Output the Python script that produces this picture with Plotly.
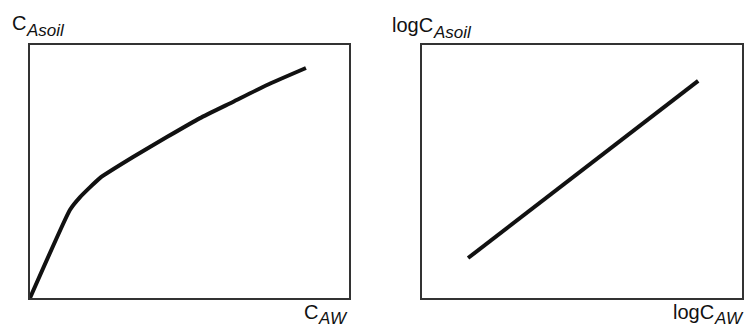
import plotly.graph_objects as go

# Left panel: C_Asoil vs C_AW (arbitrary units, 0-10 box)
lin_x = [0, 1.25, 1.57, 2.19, 3.23, 4.29, 5.33, 6.36, 7.43, 8.65]
lin_y = [0, 3.48, 3.99, 4.74, 5.57, 6.36, 7.11, 7.75, 8.42, 9.09]

# Right panel: log-log straight line
log_x = [1.44, 8.63]
log_y = [1.58, 8.58]

W, H = 746, 327
_INK = "#111111"
_BOX = "#333333"
_FONT = "Liberation Sans, Arial, Helvetica, sans-serif"

fig = go.Figure()
fig.add_trace(go.Scatter(x=lin_x, y=lin_y, mode="lines", xaxis="x", yaxis="y",
                         line=dict(color=_INK, width=4, shape="spline", smoothing=0.4),
                         hoverinfo="skip"))
fig.add_trace(go.Scatter(x=log_x, y=log_y, mode="lines", xaxis="x2", yaxis="y2",
                         line=dict(color=_INK, width=4), hoverinfo="skip"))

ax = dict(range=[0, 10], showgrid=False, zeroline=False, showticklabels=False,
          ticks="", showline=True, linecolor=_BOX, linewidth=1.5, mirror=True,
          fixedrange=True)

fig.update_layout(
    width=W, height=H,
    margin=dict(l=0, r=0, t=0, b=0),
    paper_bgcolor="white", plot_bgcolor="white",
    showlegend=False,
    font=dict(family=_FONT, size=20, color=_INK),
    xaxis=dict(domain=[30 / W, 349 / W], **ax),
    yaxis=dict(domain=[1 - 298 / H, 1 - 45 / H], **ax),
    xaxis2=dict(domain=[422 / W, 742 / W], anchor="y2", **ax),
    yaxis2=dict(domain=[1 - 298 / H, 1 - 45 / H], anchor="x2", **ax),
)


def label(text, px, py, size, italic=False, xanchor="left"):
    # px, py: pixel position from top-left; py is roughly the baseline
    fig.add_annotation(text=f"<i>{text}</i>" if italic else text,
                       x=px / W, y=1 - (py + 0.22 * size + 1) / H,
                       xref="paper", yref="paper", xanchor=xanchor, yanchor="bottom",
                       showarrow=False, font=dict(family=_FONT, size=size, color=_INK))


# axis names, drawn as main text + italic subscript
label("C", 10, 31, 20)
label("Asoil", 24, 37, 17, italic=True)
label("logC", 390, 33, 20)
label("Asoil", 431, 39, 17, italic=True)
label("C", 302, 320, 20)
label("AW", 350, 325, 17, italic=True, xanchor="right")
label("logC", 671, 320, 20)
label("AW", 746, 325, 17, italic=True, xanchor="right")

fig.write_html("out.html", config={"displayModeBar": False},
               post_script="document.body.style.margin='0';")
